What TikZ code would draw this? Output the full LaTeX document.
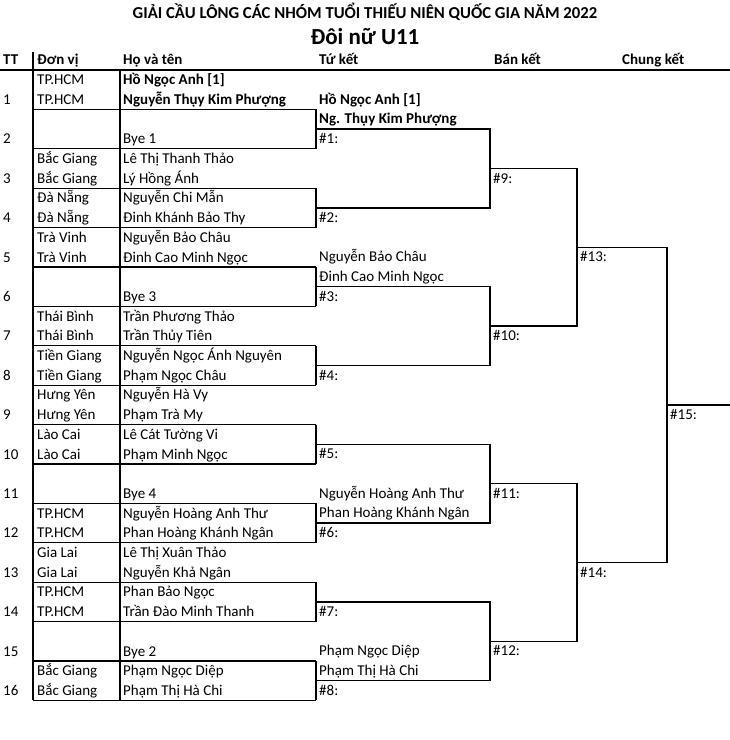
\documentclass[tikz,border=0pt]{standalone}
\usepackage{fontspec}
\setmainfont{Carlito}
\definecolor{col_000000}{RGB}{0,0,0}
\newcommand{\tikzentry}[5]{%
\node[celltext] (tt#1) at (3,#2+34.4) {#1};
\node[celltext] (unita#1) at (37,#2+14.7) {#3};
\node[celltext] (unitb#1) at (37,#2+34.4) {#3};
\node[celltext] (namea#1) at (123,#2+14.7) {#4};
\node[celltext] (nameb#1) at (123,#2+34.4) {#5};
}
\newcommand{\tikzbye}[3]{%
\node[celltext] (tt#1) at (3,#2+34.4) {#1};
\node[celltext] (nameb#1) at (123,#2+34.4) {#3};
}
\tikzset{
  celltext/.style={anchor=base west, inner sep=0pt, font=\fontsize{15}{17}\selectfont},
  headtext/.style={celltext, font=\fontsize{15}{17}\selectfont\bfseries},
  gridline/.style={solid, col_000000, line width=1.3pt},
}

\begin{document}
\begin{tikzpicture}[x=1pt,y=-1pt]
\useasboundingbox (0,0) rectangle (730,740);
%% title
\node[anchor=base, inner sep=0pt, font=\fontsize{16.7}{18}\selectfont\bfseries] (title) at (365,18.5) {GIẢI CẦU LÔNG CÁC NHÓM TUỔI THIẾU NIÊN QUỐC GIA NĂM 2022};
\node[anchor=base, inner sep=0pt, font=\fontsize{23}{26}\selectfont\bfseries] (event) at (365,44.5) {Đôi nữ U11};
%% column heads
\node[headtext] (hdtt) at (3,64.8) {TT};
\node[headtext] (hdunit) at (37,64.8) {Đơn vị};
\node[headtext] (hdname) at (123,64.8) {Họ và tên};
\node[headtext] (hdqf) at (319,64.8) {Tứ kết};
\node[headtext] (hdsf) at (494,64.8) {Bán kết};
\node[headtext] (hdf) at (622,64.8) {Chung kết};
\draw[solid, col_000000, line width=2pt] (0,70) -- (730,70);     %% head rule
\draw[gridline] (33,52) -- (33,700.4);
\draw[gridline] (120,70) -- (120,700.4);
%% entry rules
\draw[gridline] (33,109.4) -- (316,109.4);
\draw[gridline] (33,148.8) -- (316,148.8);
\draw[gridline] (33,188.2) -- (316,188.2);
\draw[gridline] (33,227.6) -- (316,227.6);
\draw[gridline] (33,267.0) -- (316,267.0);
\draw[gridline] (33,306.4) -- (316,306.4);
\draw[gridline] (33,345.8) -- (316,345.8);
\draw[gridline] (33,385.2) -- (316,385.2);
\draw[gridline] (33,424.6) -- (316,424.6);
\draw[gridline] (33,464.0) -- (316,464.0);
\draw[gridline] (33,503.4) -- (316,503.4);
\draw[gridline] (33,542.8) -- (316,542.8);
\draw[gridline] (33,582.2) -- (316,582.2);
\draw[gridline] (33,621.6) -- (316,621.6);
\draw[gridline] (33,661.0) -- (316,661.0);
\draw[gridline] (33,700.4) -- (316,700.4);
%% box sides
\draw[gridline] (316,109.4) -- (316,148.8);
\draw[gridline] (316,188.2) -- (316,227.6);
\draw[gridline] (316,267.0) -- (316,306.4);
\draw[gridline] (316,345.8) -- (316,385.2);
\draw[gridline] (316,424.6) -- (316,464.0);
\draw[gridline] (316,503.4) -- (316,542.8);
\draw[gridline] (316,582.2) -- (316,621.6);
\draw[gridline] (316,661.0) -- (316,700.4);
%% entries
\tikzentry{1}{70.0}{TP.HCM}{\textbf{Hồ Ngọc Anh [1]}}{\textbf{Nguyễn Thụy Kim Phượng}}
\tikzbye{2}{109.4}{Bye 1}
\tikzentry{3}{148.8}{Bắc Giang}{Lê Thị Thanh Thảo}{Lý Hồng Ánh}
\tikzentry{4}{188.2}{Đà Nẵng}{Nguyễn Chi Mẫn}{Đinh Khánh Bảo Thy}
\tikzentry{5}{227.6}{Trà Vinh}{Nguyễn Bảo Châu}{Đinh Cao Minh Ngọc}
\tikzbye{6}{267.0}{Bye 3}
\tikzentry{7}{306.4}{Thái Bình}{Trần Phương Thảo}{Trần Thủy Tiên}
\tikzentry{8}{345.8}{Tiền Giang}{Nguyễn Ngọc Ánh Nguyên}{Phạm Ngọc Châu}
\tikzentry{9}{385.2}{Hưng Yên}{Nguyễn Hà Vy}{Phạm Trà My}
\tikzentry{10}{424.6}{Lào Cai}{Lê Cát Tường Vi}{Phạm Minh Ngọc}
\tikzbye{11}{464.0}{Bye 4}
\tikzentry{12}{503.4}{TP.HCM}{Nguyễn Hoàng Anh Thư}{Phan Hoàng Khánh Ngân}
\tikzentry{13}{542.8}{Gia Lai}{Lê Thị Xuân Thảo}{Nguyễn Khả Ngân}
\tikzentry{14}{582.2}{TP.HCM}{Phan Bảo Ngọc}{Trần Đào Minh Thanh}
\tikzbye{15}{621.6}{Bye 2}
\tikzentry{16}{661.0}{Bắc Giang}{Phạm Ngọc Diệp}{Phạm Thị Hà Chi}
%% quarter finals
\draw[gridline] (316,129.1) -- (490,129.1) -- (490,207.9) -- (316,207.9);
\draw[gridline] (316,286.7) -- (490,286.7) -- (490,365.5) -- (316,365.5);
\draw[gridline] (316,444.3) -- (490,444.3) -- (490,523.1) -- (316,523.1);
\draw[gridline] (316,601.9) -- (490,601.9) -- (490,680.7) -- (316,680.7);
\node[headtext] (qfa1) at (319,104.2) {Hồ Ngọc Anh [1]};
\node[headtext] (qfb1) at (319,123.9) {Ng. Thụy Kim Phượng};
\node[celltext] (m1) at (319,143.6) {\#1:};
\node[celltext] (m2) at (319,222.4) {\#2:};
\node[celltext] (qfa3) at (319,261.8) {Nguyễn Bảo Châu};
\node[celltext] (qfb3) at (319,281.5) {Đinh Cao Minh Ngọc};
\node[celltext] (m3) at (319,301.2) {\#3:};
\node[celltext] (m4) at (319,380.0) {\#4:};
\node[celltext] (m5) at (319,458.8) {\#5:};
\node[celltext] (qfa6) at (319,498.2) {Nguyễn Hoàng Anh Thư};
\node[celltext] (qfb6) at (319,517.9) {Phan Hoàng Khánh Ngân};
\node[celltext] (m6) at (319,537.6) {\#6:};
\node[celltext] (m7) at (319,616.4) {\#7:};
\node[celltext] (qfa8) at (319,655.8) {Phạm Ngọc Diệp};
\node[celltext] (qfb8) at (319,675.5) {Phạm Thị Hà Chi};
\node[celltext] (m8) at (319,695.2) {\#8:};
%% semi finals
\draw[gridline] (490,168.5) -- (577,168.5) -- (577,326.1) -- (490,326.1);
\draw[gridline] (490,483.7) -- (577,483.7) -- (577,641.3) -- (490,641.3);
\node[celltext] (m9) at (493,183.0) {\#9:};
\node[celltext] (m10) at (493,340.6) {\#10:};
\node[celltext] (m11) at (493,498.2) {\#11:};
\node[celltext] (m12) at (493,655.8) {\#12:};
%% final
\draw[gridline] (577,247.3) -- (667,247.3) -- (667,562.5) -- (577,562.5);
\draw[gridline] (667,404.9) -- (730,404.9);
\node[celltext] (m13) at (580,261.8) {\#13:};
\node[celltext] (m14) at (580,577.0) {\#14:};
\node[celltext] (m15) at (670,419.4) {\#15:};
\end{tikzpicture}
\end{document}
